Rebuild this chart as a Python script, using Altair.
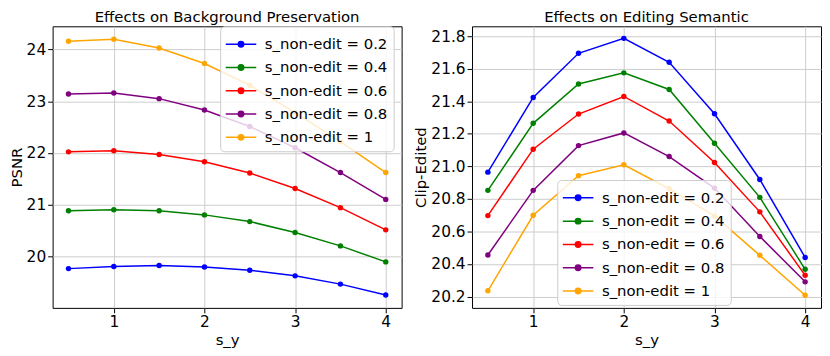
import altair as alt
import pandas as pd

s_y = [0.5, 1, 1.5, 2, 2.5, 3, 3.5, 4]
series = ["s_non-edit = 0.2", "s_non-edit = 0.4", "s_non-edit = 0.6",
          "s_non-edit = 0.8", "s_non-edit = 1"]
colors = ["#0000ff", "#008000", "#ff0000", "#800080", "#ffa500"]

psnr_02 = [19.76, 19.80, 19.82, 19.79, 19.73, 19.62, 19.46, 19.25]
psnr_04 = [20.88, 20.90, 20.88, 20.80, 20.67, 20.46, 20.20, 19.89]
psnr_06 = [22.02, 22.04, 21.97, 21.83, 21.61, 21.31, 20.94, 20.51]
psnr_08 = [23.14, 23.16, 23.05, 22.83, 22.51, 22.10, 21.62, 21.10]
psnr_10 = [24.16, 24.20, 24.03, 23.73, 23.31, 22.78, 22.22, 21.62]

clip_02 = [20.964, 21.423, 21.694, 21.786, 21.639, 21.323, 20.919, 20.440]
clip_04 = [20.852, 21.264, 21.506, 21.574, 21.472, 21.142, 20.809, 20.367]
clip_06 = [20.697, 21.105, 21.321, 21.429, 21.278, 21.023, 20.720, 20.330]
clip_08 = [20.455, 20.852, 21.127, 21.205, 21.060, 20.866, 20.569, 20.290]
clip_10 = [20.235, 20.699, 20.942, 21.009, 20.862, 20.695, 20.453, 20.208]

psnr_ticks = [20, 21, 22, 23, 24]
clip_ticks = [20.2, 20.4, 20.6, 20.8, 21.0, 21.2, 21.4, 21.6, 21.8]
x_ticks = [1, 2, 3, 4]


def long_df(cols):
    rows = []
    for name, vals in zip(series, cols):
        for x, v in zip(s_y, vals):
            rows.append({"s_y": x, "value": v, "series": name})
    return pd.DataFrame(rows)


df_psnr = long_df([psnr_02, psnr_04, psnr_06, psnr_08, psnr_10])
df_clip = long_df([clip_02, clip_04, clip_06, clip_08, clip_10])

FONT = "DejaVu Sans"
SYMBOL = ("M-1.4,0H1.4M-0.25,0A0.25,0.25,0,1,1,0.25,0"
          "A0.25,0.25,0,1,1,-0.25,0Z")


def panel(df, title, ytitle, ydomain, yticks, lx, ly, yfmt):
    legend = alt.Legend(
        title=None, orient="none", legendX=lx, legendY=ly,
        symbolType=SYMBOL, symbolSize=484, symbolStrokeWidth=1.5,
        symbolOffset=3, labelOffset=12, labelFontSize=15, labelFont=FONT,
        labelColor="black", rowPadding=3.5, padding=6,
        fillColor="rgba(255,255,255,0.8)", strokeColor="#cccccc",
        cornerRadius=4, labelLimit=300,
    )
    color = alt.Color("series:N", scale=alt.Scale(domain=series, range=colors),
                      legend=legend, sort=series)
    x = alt.X("s_y:Q", title="s_y",
              scale=alt.Scale(domain=[0.325, 4.175], nice=False, zero=False),
              axis=alt.Axis(values=x_ticks, format="d"))
    y = alt.Y("value:Q", title=ytitle,
              scale=alt.Scale(domain=ydomain, nice=False, zero=False),
              axis=alt.Axis(values=yticks, format=yfmt))
    base = alt.Chart(df).encode(x=x, y=y, color=color)
    line = base.mark_line(strokeWidth=1.5)
    pts = base.mark_circle(size=30, opacity=1)
    return alt.layer(line, pts).properties(
        width=352, height=284,
        title=alt.TitleParams(title, fontSize=15, fontWeight="normal",
                              font=FONT, color="black", offset=1),
    )


left = panel(df_psnr, "Effects on Background Preservation", "PSNR",
             [19.0, 24.45], psnr_ticks, 169, 0, "d")
right = panel(df_clip, "Effects on Editing Semantic", "Clip-Edited",
              [20.13, 21.86], clip_ticks, 86, 155, ".1f")

chart = alt.hconcat(left, right, spacing=10).resolve_scale(
    color="independent").resolve_legend(color="independent").configure(
    font=FONT,
    padding=0,
).configure_view(
    stroke="black", strokeWidth=1,
).configure_axis(
    domain=False, tickColor="black", tickSize=5, labelPadding=2,
    labelFontSize=15.5, labelFont=FONT, labelColor="black",
    titleFontSize=15, titleFont=FONT, titleFontWeight="normal",
    titleColor="black", titlePadding=2,
    gridColor="#cccccc", gridWidth=1,
)

chart.save("out.html", embed_options={"renderer": "svg", "actions": False})
